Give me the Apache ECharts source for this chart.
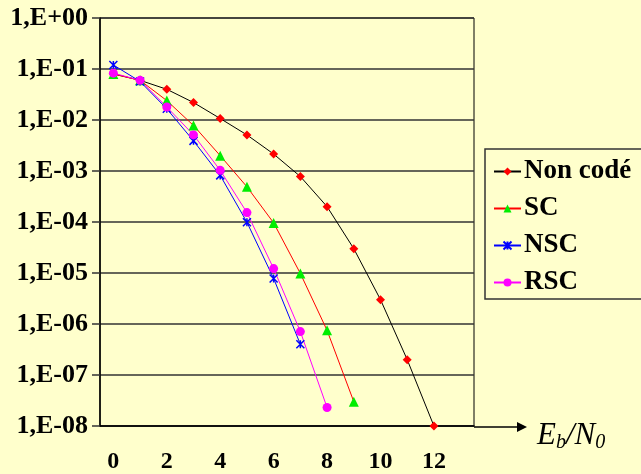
<!DOCTYPE html>
<html>
<head>
<meta charset="utf-8">
<script src="https://cdn.jsdelivr.net/npm/echarts@6/dist/echarts.min.js"></script>
<style>
html,body{margin:0;padding:0;background:#ffffcc;}
#teb-chart{width:641px;height:474px;}
</style>
</head>
<body>
<div id="teb-chart"></div>
<script>
// Eb/N0 (dB), une catégorie par dB
var ebn0 = ['0','1','2','3','4','5','6','7','8','9','10','11','12','13'];
// TEB
var nonCode = [8.0e-2, 6.0e-2, 4.0e-2, 2.2e-2, 1.07e-2, 5.1e-3, 2.15e-3, 7.8e-4, 2.0e-4, 3.0e-5, 3.0e-6, 2.0e-7, 1.0e-8];
var sc      = [8.0e-2, 6.0e-2, 2.4e-2, 7.8e-3, 2.0e-3, 4.9e-4, 9.6e-5, 9.8e-6, 7.5e-7, 3.0e-8];
var nsc     = [1.2e-1, 5.7e-2, 1.66e-2, 3.9e-3, 8.2e-4, 9.9e-5, 7.8e-6, 4.0e-7];
var rsc     = [8.3e-2, 6.0e-2, 1.8e-2, 5.1e-3, 1.03e-3, 1.53e-4, 1.22e-5, 7.1e-7, 2.3e-8];

var serif = '"Liberation Serif","Times New Roman",serif';
var starPath = 'path://M0,0L10,10M10,0L0,10M5,0L5,10';

function tebLabel(v){
	var e = Math.round(Math.log10(v));
	var n = Math.abs(e);
	return '1,E' + (e < 0 ? '-' : '+') + (n < 10 ? '0' + n : n);
}

function tebChart(idName){
	var chart = echarts.init(document.getElementById(idName));

	var option = {
		backgroundColor:'#ffffcc',
		animation:false,
		grid:{
			left:100, right:167, top:18, bottom:47,
			show:true,
			backgroundColor:'#ffffcc',
			borderColor:'#000',
			borderWidth:1
		},
		legend:{
			orient:'vertical',
			left:485, top:149,
			padding:[9,30,3,8],
			itemWidth:27, itemHeight:10, itemGap:10,
			borderColor:'#333', borderWidth:1.5,
			backgroundColor:'#ffffcc',
			textStyle:{fontFamily:serif, fontWeight:'bold', fontSize:27, lineHeight:26, color:'#000', padding:[0,0,0,-2]},
			data:['Non codé','SC','NSC','RSC']
		},
		xAxis:{
			type:'category',
			data:ebn0,
			boundaryGap:true,
			axisLine:{lineStyle:{color:'#000', width:1.5}},
			axisTick:{show:false},
			axisLabel:{interval:1, margin:24, fontFamily:serif, fontWeight:'bold', fontSize:24, color:'#000'},
			splitLine:{show:false},
			name:'{e|E}{s|b}{e|/N}{s|0}',
			nameLocation:'end',
			nameGap:63,
			nameTextStyle:{
				padding:[20,0,0,0],
				rich:{
					e:{fontFamily:serif, fontStyle:'italic', fontSize:31, color:'#000'},
					s:{fontFamily:serif, fontStyle:'italic', fontSize:20, color:'#000', padding:[14,0,0,0]}
				}
			}
		},
		yAxis:{
			type:'log',
			logBase:10,
			min:1e-8, max:1,
			interval:1,
			axisLine:{show:true, lineStyle:{color:'#000', width:1.5}},
			axisTick:{show:true, inside:false, length:8, lineStyle:{color:'#333', width:1.5}},
			axisLabel:{margin:12, formatter:tebLabel, fontFamily:serif, fontWeight:'bold', fontSize:26, color:'#000'},
			splitLine:{show:true, lineStyle:{color:'#333', width:1.5}},
			minorTick:{show:false}
		},
		graphic:[
			{type:'line', shape:{x1:474, y1:427, x2:520, y2:427}, style:{stroke:'#000', lineWidth:1.5}},
			{type:'polygon', shape:{points:[[517,422],[527,427],[517,432]]}, style:{fill:'#000'}}
		],
		series:[
			{
				name:'Non codé', type:'line', data:nonCode,
				symbol:'diamond', symbolSize:9,
				lineStyle:{color:'#000', width:1},
				itemStyle:{color:'#ff0000'}
			},
			{
				name:'SC', type:'line', data:sc,
				symbol:'triangle', symbolSize:10,
				lineStyle:{color:'#ff0000', width:1},
				itemStyle:{color:'#00ee00'}
			},
			{
				name:'NSC', type:'line', data:nsc,
				symbol:starPath, symbolSize:8,
				lineStyle:{color:'#0000ff', width:1},
				itemStyle:{color:'#0000ff', borderColor:'#0000ff', borderWidth:1.5}
			},
			{
				name:'RSC', type:'line', data:rsc,
				symbol:'circle', symbolSize:9,
				lineStyle:{color:'#ff00ff', width:1},
				itemStyle:{color:'#ff00ff'}
			}
		]
	};

	chart.setOption(option);
}

tebChart('teb-chart');
</script>
</body>
</html>
